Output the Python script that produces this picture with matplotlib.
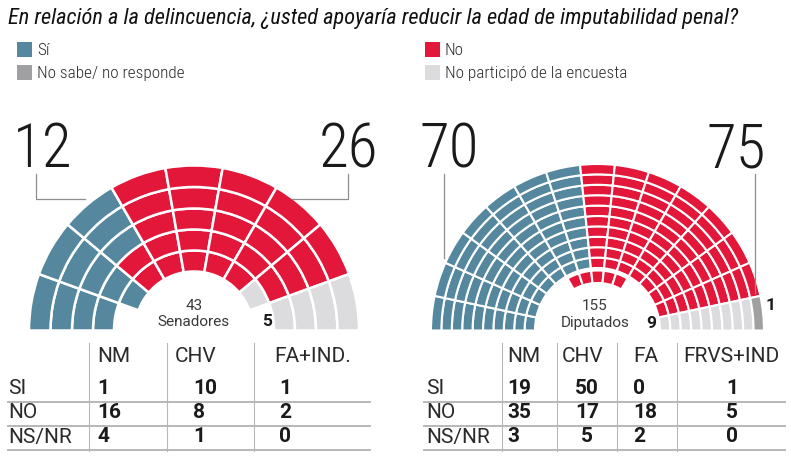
import matplotlib
matplotlib.use("Agg")
import matplotlib.pyplot as plt
from matplotlib.patches import Wedge, Rectangle
from matplotlib import font_manager as fm
import numpy as np

# ---------------- data ----------------
title = "En relación a la delincuencia, ¿usted apoyaría reducir la edad de imputabilidad penal?"

parties = ["Sí", "No", "No participó de la encuesta", "No sabe/ no responde"]
party_colors = ["#55889f", "#e2173a", "#dcdcde", "#a0a0a2"]
legend_order = ["Sí", "No sabe/ no responde", "No", "No participó de la encuesta"]

# seats per ring (inner -> outer), left to right: Sí, No, No participó, NS/NR
senate_si = [1, 2, 3, 3, 3]
senate_no = [5, 6, 5, 5, 5]
senate_np = [1, 1, 1, 1, 1]
senate_ns = [0, 0, 0, 0, 0]

chamber_si = [0, 7, 7, 7, 7, 7, 7, 7, 7, 7, 7]
chamber_no = [5, 7, 7, 7, 7, 7, 7, 7, 7, 7, 7]
chamber_np = [0, 1, 1, 1, 1, 1, 1, 1, 1, 1, 0]
chamber_ns = [0, 0, 0, 0, 0, 0, 0, 0, 0, 0, 1]

senate_name = "Senadores"
chamber_name = "Diputados"

row_labels = ["SI", "NO", "NS/NR"]
senate_cols = ["NM", "CHV", "FA+IND."]
senate_tab_si = [1, 10, 1]
senate_tab_no = [16, 8, 2]
senate_tab_ns = [4, 1, 0]
chamber_cols = ["NM", "CHV", "FA", "FRVS+IND"]
chamber_tab_si = [19, 50, 0, 1]
chamber_tab_no = [35, 17, 18, 5]
chamber_tab_ns = [3, 5, 2, 0]

# ---------------- fonts ----------------
avail = {f.name for f in fm.fontManager.ttflist}
def pick(*c):
    for n in c:
        if n in avail:
            return n
    return "DejaVu Sans"
NARROW = pick("Roboto Condensed", "Liberation Sans Narrow", "Open Sans Condensed", "DejaVu Sans")
REG = pick("Roboto", "DejaVu Sans")
plt.rcParams["font.family"] = [NARROW, "DejaVu Sans"]
plt.rcParams["font.stretch"] = "condensed"

W, H = 791, 459
fig = plt.figure(figsize=(W / 100, H / 100), dpi=100)
ax = fig.add_axes([0, 0, 1, 1])
ax.set_xlim(0, W)
ax.set_ylim(H, 0)
ax.axis("off")
fig.canvas.draw()
renderer = fig.canvas.get_renderer()

def fit_width(t, target):
    bb = t.get_window_extent(renderer)
    t.set_fontsize(t.get_fontsize() * target / bb.width)
    return t.get_fontsize()

# ---------------- title & legend ----------------
tt = ax.text(8, 24, title, fontsize=11, style="italic", fontweight="normal",
             color="#111111", va="baseline")
fit_width(tt, 728)

leg_pos = {"Sí": (17, 42), "No sabe/ no responde": (17, 65),
           "No": (425, 42), "No participó de la encuesta": (425, 65)}
probe = ax.text(0, 0, "No sabe/ no responde", fontsize=10, fontweight="light")
leg_fs = fit_width(probe, 148)
probe.remove()
for name in legend_order:
    x, y = leg_pos[name]
    ax.add_patch(Rectangle((x, y), 15, 15, facecolor=party_colors[parties.index(name)], edgecolor="none"))
    ax.text(x + 20, y + 8.5, name, fontsize=leg_fs, fontweight="light", color="#2a2a2a",
            va="center", ha="left")

# ---------------- hemicycles ----------------
def hemicycle(cx, cy, bounds, counts, n_full, lw):
    for k in range(len(bounds)):
        r_in, r_out = bounds[k]
        cols = []
        for p, c in enumerate(counts):
            cols += [party_colors[p]] * c[k]
        n = len(cols)
        cell = 180.0 / n_full
        start = 90 - n * cell / 2
        for i, col in enumerate(cols):
            phi0 = start + i * cell
            ax.add_patch(Wedge((cx, cy), r_out, 180 + phi0, 180 + phi0 + cell,
                               width=r_out - r_in, facecolor=col, edgecolor="white",
                               linewidth=lw))

sen_counts = [senate_si, senate_no, senate_np, senate_ns]
sen_bounds = [(59, 80), (80, 101), (101, 122), (122, 143.5), (143.5, 165)]
hemicycle(194, 330.5, sen_bounds, sen_counts, 9, 1.8)

ch_counts = [chamber_si, chamber_no, chamber_np, chamber_ns]
edges = np.linspace(62.5, 166.5, 11)
ch_bounds = [(47.5, 60.0)] + [(edges[i], edges[i + 1]) for i in range(10)]
hemicycle(597.5, 330.5, ch_bounds, ch_counts, 15, 1.5)

sen_tot = [sum(c) for c in sen_counts]
ch_tot = [sum(c) for c in ch_counts]

def bignum(x, val):
    ax.text(x, 167, str(val), fontsize=44, fontweight="light", color="#1a1a1a",
            ha="center", va="baseline")

bignum(43, sen_tot[0])
bignum(348, sen_tot[1])
bignum(449, ch_tot[0])
bignum(736, ch_tot[1])

lc = "#8e8e8e"
ax.plot([35.5, 35.5, 85], [174, 199, 199], color=lc, lw=0.9)
ax.plot([347.5, 347.5, 292], [174, 199, 199], color=lc, lw=0.9)
ax.plot([443.5, 443.5], [174, 258], color=lc, lw=0.9)
ax.plot([754.5, 754.5], [174, 293], color=lc, lw=0.9)

small = dict(fontsize=11, fontfamily=REG, fontstretch="normal", fontweight="normal",
             color="#3a3a3a", ha="center", va="center")
boldn = dict(fontsize=12.5, fontfamily=REG, fontstretch="normal", fontweight="bold",
             color="#1a1a1a", ha="center", va="center")
ax.text(194, 306, str(sum(sen_tot)), **small)
ax.text(193, 322, senate_name, **small)
ax.text(267, 321, str(sen_tot[2]), **boldn)

ax.text(595, 306, str(sum(ch_tot)), **small)
ax.text(595, 323, chamber_name, **small)
ax.text(651, 323, str(ch_tot[2]), **boldn)
ax.text(771, 306, str(ch_tot[3]), **boldn)

# ---------------- tables ----------------
row_y = [389, 413, 437]
head_y = 356
line_y = [402, 426, 450]
gc = "#b8b8b8"
FS = 15

def table(x0, x1, label_x, seps, head_x, val_x, val_ha, cols, rows):
    for s in seps:
        ax.plot([s, s], [343, 451], color=gc, lw=0.8)
    for y in line_y:
        ax.plot([x0, x1], [y, y], color=gc, lw=1.4)
    kw = dict(fontsize=FS, fontfamily=REG, fontstretch="normal", va="center")
    for hx, c in zip(head_x, cols):
        ax.text(hx, head_y, c, color="#2a2a2a", ha="left", fontweight="normal", **kw)
    for ry, lab, vals in zip(row_y, row_labels, rows):
        ax.text(label_x, ry, lab, color="#2a2a2a", ha="left", fontweight="normal", **kw)
        for vx, ha, v in zip(val_x, val_ha, vals):
            ax.text(vx, ry, str(v), fontweight="bold", color="#1a1a1a", ha=ha, **kw)

table(8, 370, 8, [89, 167, 254], [97, 175, 274], [97, 193, 279], ["left", "left", "left"],
      senate_cols, [senate_tab_si, senate_tab_no, senate_tab_ns])
table(424, 785, 426, [502, 557, 617, 677], [507, 562, 633, 683], [507, 587, 633, 726],
      ["left", "center", "left", "left"],
      chamber_cols, [chamber_tab_si, chamber_tab_no, chamber_tab_ns])

fig.savefig("out.png", dpi=100, facecolor="white")
